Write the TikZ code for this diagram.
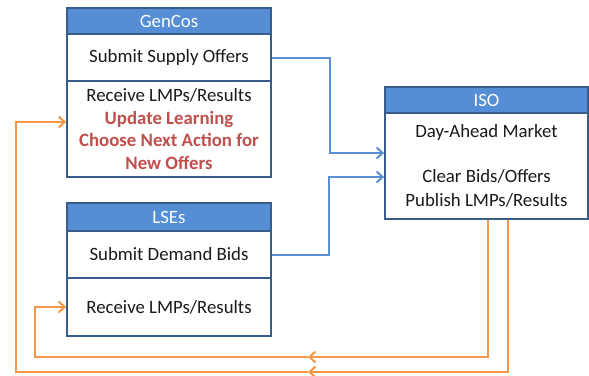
\documentclass[tikz,border=0pt]{standalone}
\usepackage{fontspec}
\setmainfont{Carlito}
\usetikzlibrary{arrows.meta,calc}
\definecolor{hdr}{HTML}{558ED5}
\definecolor{bord}{HTML}{385D8A}
\definecolor{bluec}{HTML}{5A8FD6}
\definecolor{orgc}{HTML}{F79646}
\definecolor{redt}{HTML}{C0504D}
\definecolor{txt}{HTML}{1A1A1A}
\tikzset{
  sect/.style={draw=bord, line width=1.8pt, fill=white, inner sep=0pt, minimum width=204pt,
    align=center, text=txt, font=\fontsize{18.8}{22.7}\selectfont},
  hdrbox/.style={sect, fill=hdr, text=white},
  blueln/.style={draw=bluec, line width=2pt, -{Straight Barb[length=6pt,width=11pt]}},
  orgln/.style={draw=orgc, line width=2pt, -{Straight Barb[length=6pt,width=11pt]}}
}
\begin{document}
\begin{tikzpicture}[x=1pt,y=-1pt]
\useasboundingbox (0,0) rectangle (589,375);
% GenCos
\node[sect, minimum height=47pt] (gs) at (169,57.5) {Submit Supply Offers};
\node[sect, minimum height=96pt] (gr) at (169,129) {Receive LMPs/Results\\
  \textcolor{redt}{\bfseries Update Learning}\\
  \textcolor{redt}{\bfseries Choose Next Action for}\\
  \textcolor{redt}{\bfseries New Offers}};
\node[hdrbox, minimum height=26pt] (gh) at (169,21) {GenCos};
% ISO
\node[sect, minimum width=203pt, minimum height=106pt] (ib) at (486.5,166)
  {Day-Ahead Market\\ \mbox{}\\ Clear Bids/Offers\\[1.5pt] Publish LMPs/Results};
\node[hdrbox, minimum width=203pt, minimum height=26pt] (ih) at (486.5,100) {ISO};
% LSEs
\node[sect, minimum height=47pt] (ls) at (169,254.5) {Submit Demand Bids};
\node[sect, minimum height=58pt] (lr) at (169,307) {Receive LMPs/Results};
\node[hdrbox, minimum height=28pt] (lh) at (169,217) {LSEs};
% blue connectors
\draw[blueln] (gs.east) -- ++(58,0) |- ([yshift=13pt]ib.west);
\draw[blueln] (ls.east) -- ++(57,0) |- ([yshift=-11pt]ib.west);
% orange connectors
\coordinate (m1) at (308,357);
\coordinate (m2) at (308,372);
\coordinate (o1) at (35,357);
\coordinate (o2) at (16,372);
\draw[orgln] ([xshift=1.5pt]ib.south) |- (m1);
\draw[orgln] (m1) -- (o1) |- (lr.west);
\draw[orgln] ([xshift=21.5pt]ib.south) |- (m2);
\draw[orgln] (m2) -- (o2) |- ([yshift=7pt]gr.west);
\end{tikzpicture}
\end{document}
